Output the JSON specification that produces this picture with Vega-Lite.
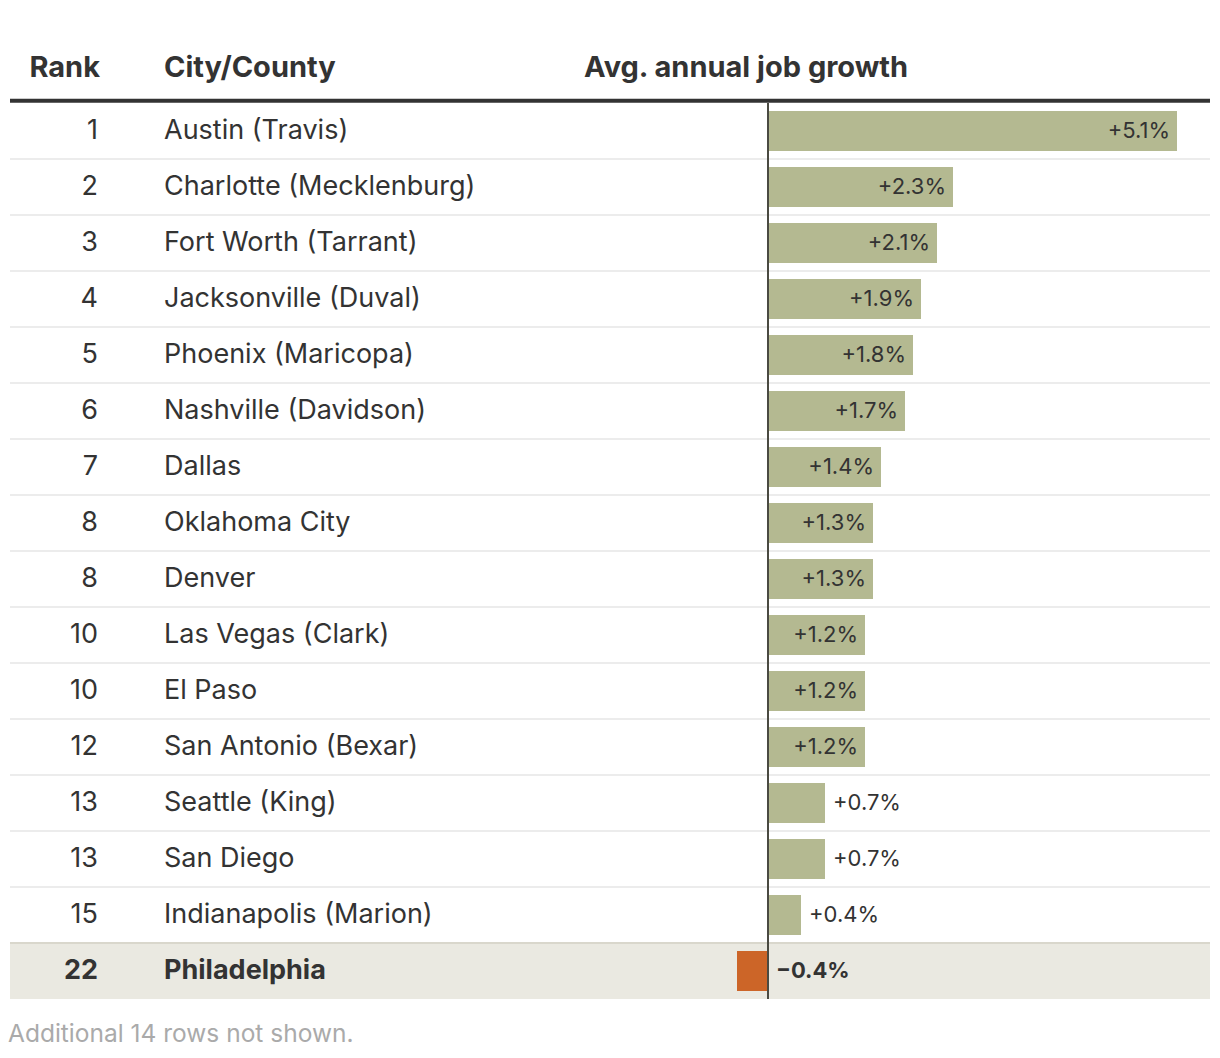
{
  "$schema": "https://vega.github.io/schema/vega-lite/v6.json",
  "width": 1200,
  "height": 952,
  "padding": {"left": 8, "right": 12, "top": 47, "bottom": 0},
  "autosize": {"type": "pad"},
  "config": {"view": {"stroke": null}, "font": "Inter", "text": {"font": "Inter", "color": "#333333"}},
  "title": {"text": "Additional 14 rows not shown.", "orient": "bottom", "anchor": "start", "fontSize": 24.5, "fontWeight": "normal", "color": "#aaaaaa", "font": "Inter", "offset": 24},
  "datasets": {
    "rows": [
      {"rank": 1, "city": "Austin (Travis)", "growth": 0.051},
      {"rank": 2, "city": "Charlotte (Mecklenburg)", "growth": 0.023},
      {"rank": 3, "city": "Fort Worth (Tarrant)", "growth": 0.021},
      {"rank": 4, "city": "Jacksonville (Duval)", "growth": 0.019},
      {"rank": 5, "city": "Phoenix (Maricopa)", "growth": 0.018},
      {"rank": 6, "city": "Nashville (Davidson)", "growth": 0.017},
      {"rank": 7, "city": "Dallas", "growth": 0.014},
      {"rank": 8, "city": "Oklahoma City", "growth": 0.013},
      {"rank": 8, "city": "Denver", "growth": 0.013},
      {"rank": 10, "city": "Las Vegas (Clark)", "growth": 0.012},
      {"rank": 10, "city": "El Paso", "growth": 0.012},
      {"rank": 12, "city": "San Antonio (Bexar)", "growth": 0.012},
      {"rank": 13, "city": "Seattle (King)", "growth": 0.007},
      {"rank": 13, "city": "San Diego", "growth": 0.007},
      {"rank": 15, "city": "Indianapolis (Marion)", "growth": 0.004},
      {"rank": 22, "city": "Philadelphia", "growth": -0.004}
    ],
    "head": [
      {"city": "_header", "col": "Rank"},
      {"city": "_header", "col": "City/County"},
      {"city": "_header", "col": "Avg. annual job growth"}
    ]
  },
  "encoding": {
    "y": {
      "field": "city", "type": "nominal", "axis": null,
      "scale": {
        "domain": ["_header", "Austin (Travis)", "Charlotte (Mecklenburg)", "Fort Worth (Tarrant)", "Jacksonville (Duval)", "Phoenix (Maricopa)", "Nashville (Davidson)", "Dallas", "Oklahoma City", "Denver", "Las Vegas (Clark)", "El Paso", "San Antonio (Bexar)", "Seattle (King)", "San Diego", "Indianapolis (Marion)", "Philadelphia"],
        "paddingInner": 0, "paddingOuter": 0
      }
    }
  },
  "layer": [
    {
      "data": {"name": "rows"},
      "transform": [{"filter": "datum.city === 'Philadelphia'"}],
      "mark": {"type": "bar", "color": "#eae9e1"},
      "encoding": {
        "x": {"datum": -0.094875, "type": "quantitative", "scale": {"domain": [-0.094875, 0.055125], "nice": false, "zero": false}, "axis": null},
        "x2": {"datum": 0.055125}
      }
    },
    {
      "data": {"name": "rows"},
      "transform": [{"filter": "datum.city !== 'Philadelphia'"}],
      "mark": {"type": "rule", "strokeWidth": 2},
      "encoding": {
        "y": {"field": "city", "type": "nominal", "bandPosition": 1},
        "color": {"condition": {"test": "datum.city === 'Indianapolis (Marion)'", "value": "#d9d7cc"}, "value": "#ececec"}
      }
    },
    {
      "data": {"name": "rows"},
      "mark": {"type": "bar", "height": {"band": 0.714}},
      "encoding": {
        "x": {"field": "growth", "type": "quantitative", "axis": null},
        "x2": {"datum": 0},
        "color": {"condition": {"test": "datum.growth < 0", "value": "#cc6528"}, "value": "#b4b991"}
      }
    },
    {
      "data": {"name": "rows"},
      "mark": {"type": "bar", "color": "#4a4a42"},
      "encoding": {
        "x": {"datum": -0.00025, "type": "quantitative"},
        "x2": {"datum": 0}
      }
    },
    {
      "data": {"name": "head"},
      "transform": [{"filter": "datum.col === 'Rank'"}],
      "mark": {"type": "rule", "strokeWidth": 4, "color": "#333333"},
      "encoding": {
        "y": {"field": "city", "type": "nominal", "bandPosition": 0.96}
      }
    },
    {
      "data": {"name": "rows"},
      "transform": [{"filter": "datum.city !== 'Philadelphia'"}],
      "mark": {"type": "text", "align": "right", "baseline": "middle", "fontSize": 27},
      "encoding": {
        "x": {"datum": -0.083875, "type": "quantitative"},
        "text": {"field": "rank", "type": "nominal"}
      }
    },
    {
      "data": {"name": "rows"},
      "transform": [{"filter": "datum.city === 'Philadelphia'"}],
      "mark": {"type": "text", "align": "right", "baseline": "middle", "fontSize": 27, "fontWeight": "bold"},
      "encoding": {
        "x": {"datum": -0.083875, "type": "quantitative"},
        "text": {"field": "rank", "type": "nominal"}
      }
    },
    {
      "data": {"name": "rows"},
      "transform": [{"filter": "datum.city !== 'Philadelphia'"}],
      "mark": {"type": "text", "align": "left", "baseline": "middle", "fontSize": 27},
      "encoding": {
        "x": {"datum": -0.075625, "type": "quantitative"},
        "text": {"field": "city", "type": "nominal"}
      }
    },
    {
      "data": {"name": "rows"},
      "transform": [{"filter": "datum.city === 'Philadelphia'"}],
      "mark": {"type": "text", "align": "left", "baseline": "middle", "fontSize": 27, "fontWeight": "bold"},
      "encoding": {
        "x": {"datum": -0.075625, "type": "quantitative"},
        "text": {"field": "city", "type": "nominal"}
      }
    },
    {
      "data": {"name": "rows"},
      "transform": [{"filter": "datum.growth >= 0.01"}],
      "mark": {"type": "text", "align": "right", "baseline": "middle", "fontSize": 22, "dx": -7},
      "encoding": {
        "x": {"field": "growth", "type": "quantitative"},
        "text": {"field": "growth", "type": "quantitative", "format": "+.1%"}
      }
    },
    {
      "data": {"name": "rows"},
      "transform": [{"filter": "datum.growth >= 0 && datum.growth < 0.01"}],
      "mark": {"type": "text", "align": "left", "baseline": "middle", "fontSize": 22, "dx": 8},
      "encoding": {
        "x": {"field": "growth", "type": "quantitative"},
        "text": {"field": "growth", "type": "quantitative", "format": "+.1%"}
      }
    },
    {
      "data": {"name": "rows"},
      "transform": [{"filter": "datum.growth < 0"}],
      "mark": {"type": "text", "align": "left", "baseline": "middle", "fontSize": 22, "fontWeight": "bold", "dx": 7},
      "encoding": {
        "x": {"datum": 0, "type": "quantitative"},
        "text": {"field": "growth", "type": "quantitative", "format": "+.1%"}
      }
    },
    {
      "data": {"name": "head"},
      "transform": [{"filter": "datum.col === 'Rank'"}],
      "mark": {"type": "text", "align": "right", "baseline": "alphabetic", "fontSize": 29, "fontWeight": "bold", "dy": 2},
      "encoding": {
        "x": {"datum": -0.083625, "type": "quantitative"},
        "text": {"field": "col", "type": "nominal"}
      }
    },
    {
      "data": {"name": "head"},
      "transform": [{"filter": "datum.col === 'City/County'"}],
      "mark": {"type": "text", "align": "left", "baseline": "alphabetic", "fontSize": 29, "fontWeight": "bold", "dy": 2},
      "encoding": {
        "x": {"datum": -0.075625, "type": "quantitative"},
        "text": {"field": "col", "type": "nominal"}
      }
    },
    {
      "data": {"name": "head"},
      "transform": [{"filter": "datum.col === 'Avg. annual job growth'"}],
      "mark": {"type": "text", "align": "left", "baseline": "alphabetic", "fontSize": 29, "fontWeight": "bold", "dy": 2},
      "encoding": {
        "x": {"datum": -0.023125, "type": "quantitative"},
        "text": {"field": "col", "type": "nominal"}
      }
    }
  ]
}
